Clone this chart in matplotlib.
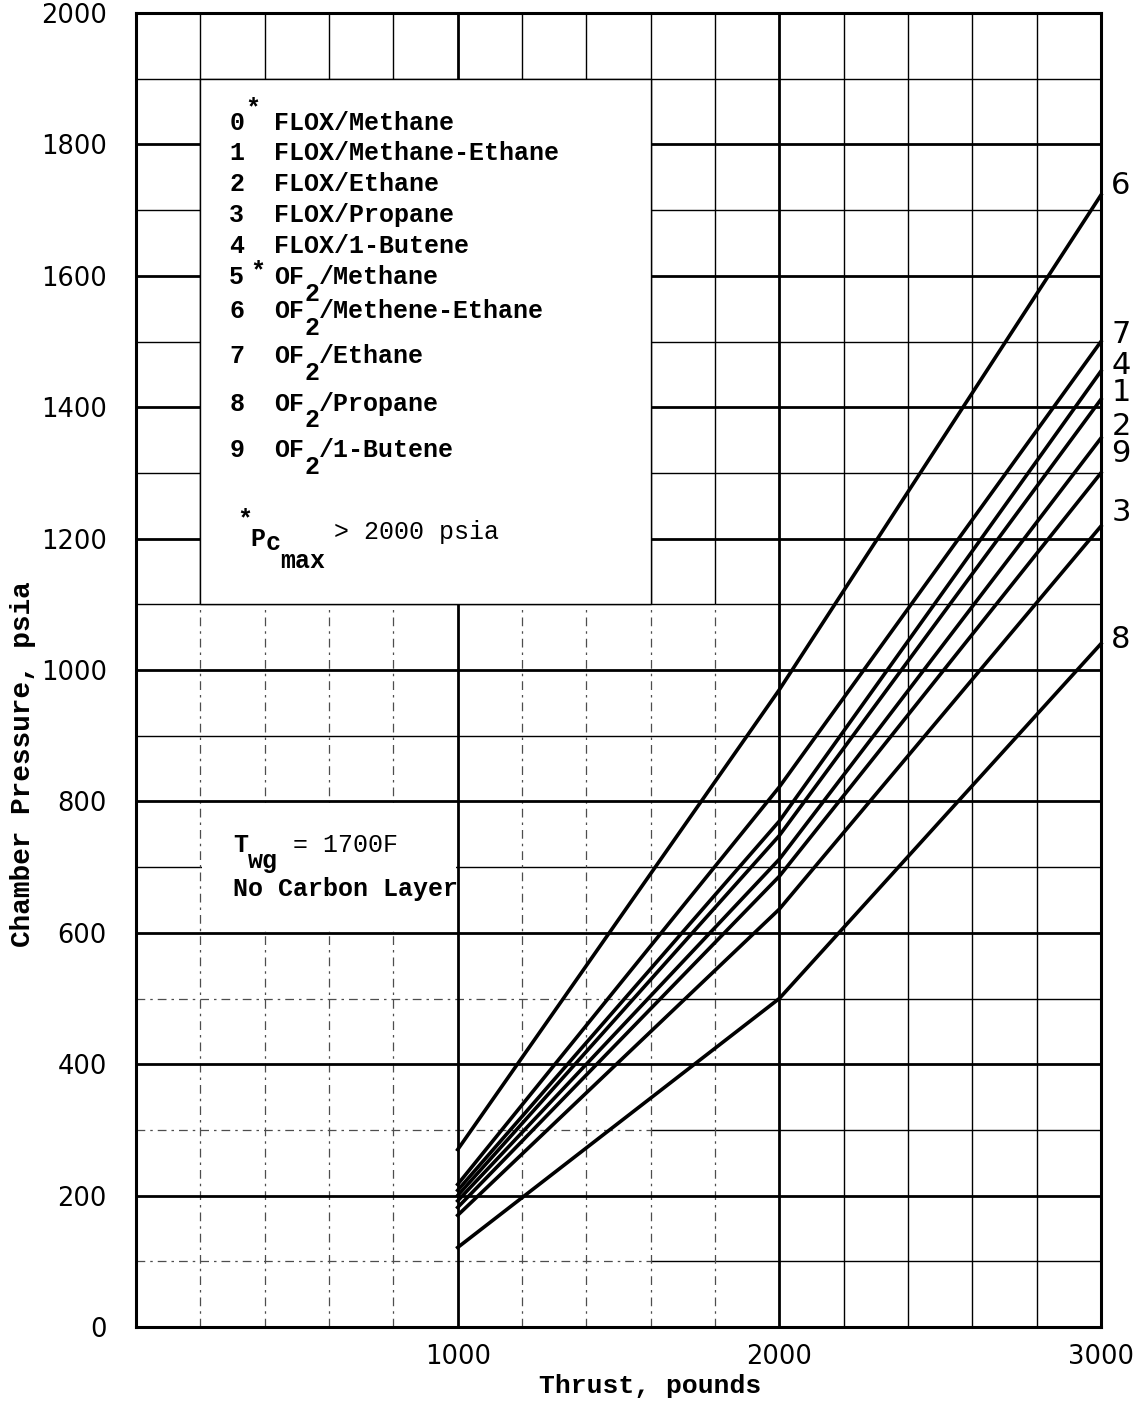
"""Chamber pressure vs thrust, Twg = 1700F, no carbon layer."""
import matplotlib
matplotlib.use("Agg")
import matplotlib.pyplot as plt
from matplotlib.patches import Rectangle
from matplotlib.transforms import offset_copy

# --- data --------------------------------------------------------------
thrust = [1000, 2000, 3000]          # pounds
pc_6 = [270, 970, 1723]             # psia
pc_7 = [217, 822, 1500]
pc_4 = [208, 770, 1455]
pc_1 = [200, 748, 1412]
pc_2 = [192, 712, 1353]
pc_9 = [182, 686, 1300]
pc_3 = [170, 636, 1219]
pc_8 = [121, 500, 1040]

curve_ids = ["6", "7", "4", "1", "2", "9", "3", "8"]
curves = [pc_6, pc_7, pc_4, pc_1, pc_2, pc_9, pc_3, pc_8]
end_label_y = [1738, 1510, 1464, 1423, 1370, 1330, 1239, 1046]

legend_ids = ["0", "1", "2", "3", "4", "5", "6", "7", "8", "9"]
legend_ox = ["FLOX", "FLOX", "FLOX", "FLOX", "FLOX", "OF", "OF", "OF", "OF", "OF"]
legend_fuel = ["Methane", "Methane-Ethane", "Ethane", "Propane", "1-Butene",
               "Methane", "Methene-Ethane", "Ethane", "Propane", "1-Butene"]
legend_star = [True, False, False, False, False, True, False, False, False, False]
legend_y = [1837, 1790, 1743, 1696, 1649, 1602, 1550, 1481, 1409, 1338]

x_ticks = [1000, 2000, 3000]
y_ticks = list(range(0, 2001, 200))

MONO = "Liberation Mono"
SANS = "DejaVu Sans"
FS = 18
CW = 0.6 * FS  # monospace advance, points

fig = plt.figure(figsize=(11.34, 14.03), dpi=100)
ax = fig.add_axes([136 / 1134, 1 - 1327 / 1403, 965 / 1134, 1314 / 1403])
ax.set_xlim(0, 3000)
ax.set_ylim(0, 2000)

# --- graph-paper grid ----------------------------------------------------
heavy = dict(color="black", lw=2.0, zorder=1.2)
light = dict(color="black", lw=1.0, zorder=1.0)
dotted = dict(color="0.3", lw=0.9, zorder=1.0, linestyle=(0, (7, 4, 2, 4)))

for y in range(100, 2000, 100):
    if y % 200 == 0:
        ax.hlines(y, 0, 3000, **heavy)
    elif y <= 500:
        ax.hlines(y, 0, 1600, **dotted)
        ax.hlines(y, 1600, 3000, **light)
    else:
        ax.hlines(y, 0, 3000, **light)

for x in range(200, 3000, 200):
    if x in (1000, 2000):
        ax.vlines(x, 0, 2000, **heavy)
    elif x < 2000:
        ax.vlines(x, 0, 1100, **dotted)
        ax.vlines(x, 1100, 2000, **light)
    else:
        ax.vlines(x, 0, 2000, **light)

for s in ax.spines.values():
    s.set_linewidth(2.2)

# white note boxes pasted over the paper
ax.add_patch(Rectangle((200, 1100), 1400, 800, facecolor="white",
                       edgecolor="black", lw=1.0, zorder=2.5))
ax.add_patch(Rectangle((206, 603), 788, 194, facecolor="white",
                       edgecolor="none", zorder=2.5))

# --- curves -------------------------------------------------------------
for cid, pc, ly in zip(curve_ids, curves, end_label_y):
    ax.plot(thrust, pc, color="black", lw=2.6, zorder=3,
            solid_joinstyle="miter", clip_on=False)
    ax.text(3062, ly, cid, fontsize=22, family=SANS, ha="center",
            va="center", clip_on=False)


def put(x, y, s, dx=0.0, dy=0.0, **kw):
    tr = offset_copy(ax.transData, fig=fig, x=dx, y=dy, units="points")
    style = dict(fontsize=FS, family=MONO, weight="bold", ha="left",
                 va="center_baseline", zorder=4)
    style.update(kw)
    ax.text(x, y, s, transform=tr, **style)


# --- legend text ----------------------------------------------------------
x0 = 290
for lid, ox, fuel, star, ly in zip(legend_ids, legend_ox, legend_fuel,
                                   legend_star, legend_y):
    put(x0, ly, lid)
    if ox == "OF":
        put(x0, ly, "OF", dx=3 * CW)
        put(x0, ly, "2", dx=5 * CW, dy=-12)
        put(x0, ly, "/" + fuel, dx=6 * CW)
    else:
        put(x0, ly, f"{ox}/{fuel}", dx=3 * CW)
    if star:
        put(x0, ly, "*", dx=(1.05 if lid == "0" else 1.4) * CW,
            dy=(10 if lid == "0" else 4))

fy = 1214
put(x0, fy, "*", dx=0.5 * CW, dy=9)
put(x0, fy, "P", dx=1.4 * CW, dy=-5)
put(x0, fy, "c", dx=2.4 * CW, dy=-8)
put(x0, fy, "max", dx=3.4 * CW, dy=-21)
put(x0, fy, "> 2000 psia", dx=7.0 * CW, weight="normal")

put(301, 737, "T")
put(301, 737, "wg", dx=1.0 * CW, dy=-11)
put(301, 737, "= 1700F", dx=4.0 * CW, weight="normal")
put(301, 671, "No Carbon Layer")

# --- axes labels ----------------------------------------------------------
ax.set_xticks(x_ticks)
ax.set_yticks(y_ticks)
ax.tick_params(length=0, labelsize=18.5)
ax.tick_params(axis="x", pad=12)
ax.tick_params(axis="y", pad=21)
for lab in ax.get_xticklabels() + ax.get_yticklabels():
    lab.set_family(SANS)

ax.set_xlabel("Thrust, pounds", family=MONO, weight="bold", fontsize=19)
ax.set_ylabel("Chamber Pressure, psia", family=MONO, weight="bold",
              fontsize=20)
ax.xaxis.set_label_coords(0.533, -0.036)
ax.yaxis.set_label_coords(-0.104, 0.428)

fig.savefig("out.png", dpi=100)
